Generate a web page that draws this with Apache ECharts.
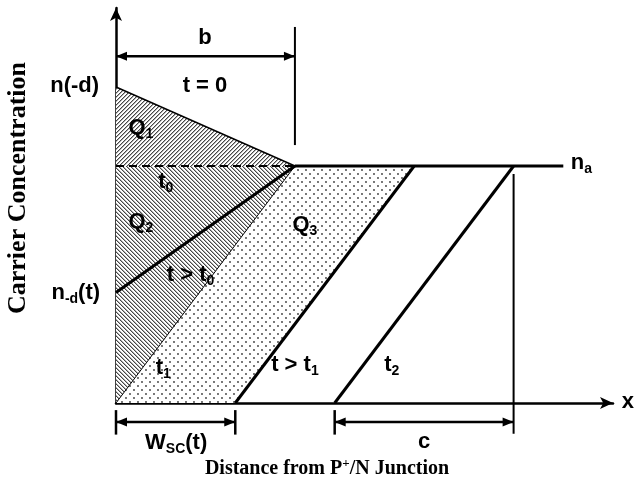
<!DOCTYPE html>
<html>
<head>
<meta charset="utf-8">
<script src="https://cdn.jsdelivr.net/npm/echarts@6/dist/echarts.min.js"></script>
<style>
  html, body { margin: 0; padding: 0; background: #fff; }
  #chart { width: 637px; height: 485px; }
</style>
</head>
<body>
<div id="chart"></div>
<script>
// ---- profile data (normalised units: distance along x, concentration along y) ----
const xRange = [0, 10];
const yRange = [0, 10];

// t = 0 profile: n(-d) at the junction falling to n_a at x = b
const profileT0 = [[0, 8.0], [3.6, 6.0]];
// t0: flat at n_a
const profileT0Flat = [[0, 6.0], [3.6, 6.0]];
// t > t0: junction value dropped to n_-d(t)
const profileAfterT0 = [[0, 2.8], [3.6, 6.0]];
// t1: junction value reaches zero
const profileT1 = [[0, 0], [3.6, 6.0]];
// t > t1: front moving into the bulk
const profileAfterT1 = [[2.4, 0], [6.0, 6.0]];
// t2
const profileT2 = [[4.4, 0], [8.0, 6.0]];
// background level n_a
const levelNa = [[3.6, 6.0], [9.0, 6.0]];

// vertical markers
const markerB = [[3.6, 9.52], [3.6, 6.53]];
const markerC = [[8.0, 5.8], [8.0, -0.78]];

// shaded charge regions
const regionQ1 = [[0, 8.0], [3.6, 6.0], [0, 6.0]];
const regionQ2 = [[0, 6.0], [3.6, 6.0], [0, 0]];
const regionQ3 = [[0, 0], [3.6, 6.0], [6.0, 6.0], [2.4, 0]];

// dimension arrows: [xStart, xEnd, y, tickAtStart, tickAtEnd]
const dimensions = [
  [0, 3.6, 8.78, false, false],
  [0, 2.4, -0.48, true, true],
  [4.4, 8.0, -0.48, true, false]
];

// annotations: [x, y, text, align]
const annotations = [
  [1.79, 9.25, 'b', 'center'],
  [1.79, 8.03, 't = 0', 'center'],
  [-0.34, 8.03, 'n(-d)', 'right'],
  [-0.32, 2.78, 'n{s|-d}(t)', 'right'],
  [0.5, 6.96, 'Q{s|1}', 'center'],
  [1.0, 5.6, 't{s|0}', 'center'],
  [0.5, 4.58, 'Q{s|2}', 'center'],
  [3.8, 4.5, 'Q{s|3}', 'center'],
  [1.5, 3.24, 't > t{s|0}', 'center'],
  [0.95, 0.89, 't{s|1}', 'center'],
  [3.6, 0.96, 't > t{s|1}', 'center'],
  [5.55, 0.96, 't{s|2}', 'center'],
  [9.15, 6.08, 'n{s|a}', 'left'],
  [10.3, 0.02, 'x', 'center'],
  [1.21, -1.01, 'W{s|SC}(t)', 'center'],
  [6.2, -0.99, 'c', 'center']
];

const xTitle = 'Distance from P{sup|+}/N Junction';
const yTitle = 'Carrier Concentration';

// ---- fill patterns ----
function makeTile(w, h, painter) {
  const c = document.createElement('canvas');
  c.width = w; c.height = h;
  const ctx = c.getContext('2d');
  ctx.fillStyle = '#fff';
  ctx.fillRect(0, 0, w, h);
  painter(ctx);
  return c;
}
function hatch(forward) {
  return makeTile(4, 4, ctx => {
    const img = ctx.getImageData(0, 0, 4, 4);
    for (let y = 0; y < 4; y++) {
      for (let x = 0; x < 4; x++) {
        const k = forward ? (x + y) % 4 : ((x - y) % 4 + 4) % 4;
        const v = k === 0 ? 70 : (k === 1 ? 175 : 255);
        const i = (y * 4 + x) * 4;
        img.data[i] = img.data[i + 1] = img.data[i + 2] = v;
        img.data[i + 3] = 255;
      }
    }
    ctx.putImageData(img, 0, 0);
  });
}
const dotTile = makeTile(8, 8, ctx => {
  ctx.fillStyle = '#3a3a3a';
  ctx.beginPath(); ctx.arc(2, 2, 0.9, 0, Math.PI * 2); ctx.fill();
  ctx.beginPath(); ctx.arc(6, 6, 0.9, 0, Math.PI * 2); ctx.fill();
});
const patterns = [
  { image: hatch(true), repeat: 'repeat' },
  { image: hatch(false), repeat: 'repeat' },
  { image: dotTile, repeat: 'repeat' }
];
const regions = [regionQ1, regionQ2, regionQ3];

const labelFont = 'Liberation Sans, Arial, sans-serif';
const titleFont = 'Liberation Serif, Times New Roman, serif';

function lineSeries(data, width, type) {
  return {
    type: 'line',
    data: data,
    symbol: 'none',
    clip: false,
    silent: true,
    animation: false,
    lineStyle: { color: '#000', width: width, type: type || 'solid', cap: 'butt' },
    z: 5
  };
}

const chart = echarts.init(document.getElementById('chart'), null, { renderer: 'canvas' });

chart.setOption({
  animation: false,
  backgroundColor: '#fff',
  grid: { left: 116, right: 24, top: 8, bottom: 82, containLabel: false, outerBoundsMode: 'none' },
  graphic: [
    {
      type: 'text', x: 327, y: 469,
      style: {
        text: xTitle, align: 'center', verticalAlign: 'middle',
        fontFamily: titleFont, fontWeight: 'bold', fontSize: 20, fill: '#000',
        rich: { sup: { fontFamily: titleFont, fontWeight: 'bold', fontSize: 13, fill: '#000', padding: [0, 0, 10, 0] } }
      }
    },
    {
      type: 'text', x: 18, y: 188, rotation: Math.PI / 2,
      style: {
        text: yTitle, align: 'center', verticalAlign: 'middle',
        fontFamily: titleFont, fontWeight: 'bold', fontSize: 26, fill: '#000'
      }
    }
  ],
  xAxis: {
    type: 'value', min: xRange[0], max: xRange[1],
    axisLine: { show: true, onZero: false, symbol: ['none', 'arrow'], symbolSize: [9, 13],
      lineStyle: { color: '#000', width: 2.5 } },
    axisTick: { show: false }, axisLabel: { show: false }, splitLine: { show: false }
  },
  yAxis: {
    type: 'value', min: yRange[0], max: yRange[1],
    axisLine: { show: true, onZero: false, symbol: ['none', 'arrow'], symbolSize: [9, 13],
      lineStyle: { color: '#000', width: 2.5 } },
    axisTick: { show: false }, axisLabel: { show: false }, splitLine: { show: false }
  },
  series: [
    {
      type: 'custom',
      data: regions.map((r, i) => i),
      clip: false, silent: true, z: 1,
      renderItem: function (params, api) {
        const i = params.dataIndex;
        const pts = regions[i].map(p => api.coord(p));
        return { type: 'polygon', shape: { points: pts }, style: { fill: patterns[i], stroke: null } };
      }
    },
    lineSeries(profileT0, 1.5),
    lineSeries(profileT0Flat, 2, [8, 5]),
    lineSeries(profileAfterT0, 3),
    lineSeries(profileT1, 1),
    lineSeries(profileAfterT1, 3),
    lineSeries(profileT2, 3),
    lineSeries(levelNa, 3),
    lineSeries(markerB, 2),
    lineSeries(markerC, 2),
    {
      type: 'custom',
      data: dimensions,
      clip: false, silent: true, z: 6,
      renderItem: function (params, api) {
        const d = dimensions[params.dataIndex];
        const a = api.coord([d[0], d[2]]);
        const b = api.coord([d[1], d[2]]);
        const len = 11, hw = 4.5;
        const children = [
          { type: 'line', shape: { x1: a[0], y1: a[1], x2: b[0], y2: b[1] }, style: { stroke: '#000', lineWidth: 2.5 } },
          { type: 'polygon', shape: { points: [[a[0], a[1]], [a[0] + len, a[1] - hw], [a[0] + len, a[1] + hw]] }, style: { fill: '#000' } },
          { type: 'polygon', shape: { points: [[b[0], b[1]], [b[0] - len, b[1] - hw], [b[0] - len, b[1] + hw]] }, style: { fill: '#000' } }
        ];
        const tickTop = api.coord([0, -0.18])[1];
        const tickBot = api.coord([0, -0.8])[1];
        if (d[3]) children.push({ type: 'line', shape: { x1: a[0], y1: tickTop, x2: a[0], y2: tickBot }, style: { stroke: '#000', lineWidth: 2.5 } });
        if (d[4]) children.push({ type: 'line', shape: { x1: b[0], y1: tickTop, x2: b[0], y2: tickBot }, style: { stroke: '#000', lineWidth: 2.5 } });
        return { type: 'group', children: children };
      }
    },
    {
      type: 'custom',
      data: annotations,
      clip: false, silent: true, z: 8,
      renderItem: function (params, api) {
        const a = annotations[params.dataIndex];
        const p = api.coord([a[0], a[1]]);
        return {
          type: 'text', x: p[0], y: p[1],
          style: {
            text: a[2], align: a[3], verticalAlign: 'middle',
            fontFamily: labelFont, fontWeight: 'bold', fontSize: 22, fill: '#000',
            rich: {
              s: { fontFamily: labelFont, fontWeight: 'bold', fontSize: 14, fill: '#000', padding: [12, 0, 0, 0] }
            }
          }
        };
      }
    }
  ]
});
</script>
</body>
</html>
